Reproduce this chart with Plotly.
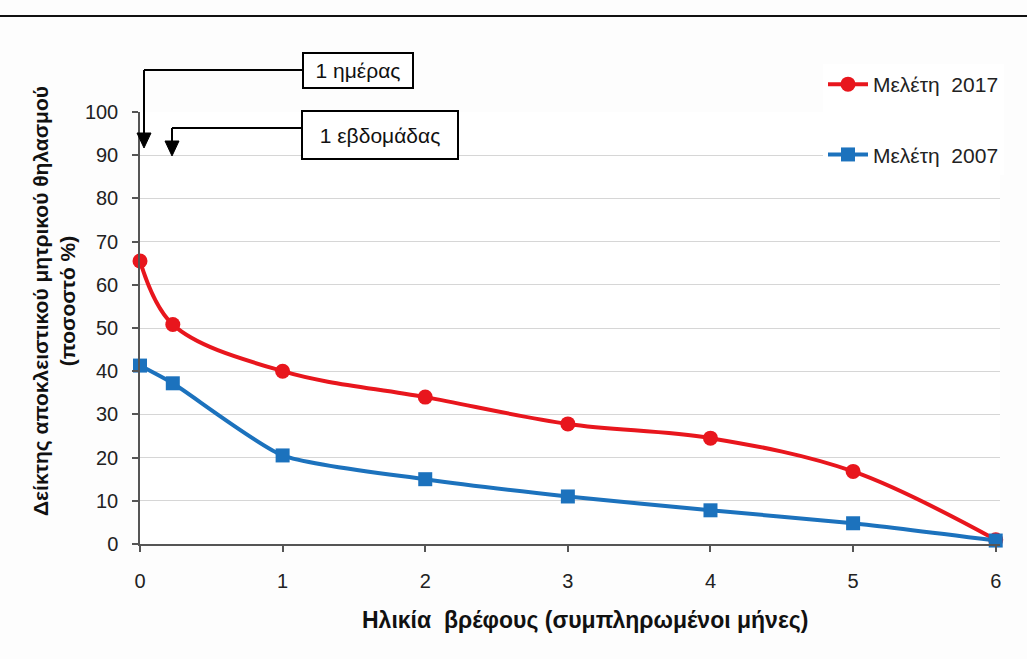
import plotly.graph_objects as go

# ---- data ----
months = [0, 0.23, 1, 2, 3, 4, 5, 6]
study_2017 = [65.5, 50.8, 40.0, 34.0, 27.8, 24.5, 16.8, 1.0]
study_2007 = [41.3, 37.2, 20.5, 15.0, 11.0, 7.8, 4.8, 0.8]
series_names = ["Μελέτη  2017", "Μελέτη  2007"]
y_ticks = list(range(0, 101, 10))
x_ticks = [0, 1, 2, 3, 4, 5, 6]
x_title = "Ηλικία  βρέφους (συμπληρωμένοι μήνες)"
y_title = "Δείκτης αποκλειστικού μητρικού θηλασμού<br>(ποσοστό %)"
note_day = "1 ημέρας"
note_week = "1 εβδομάδας"

W, H = 1027, 659
L, R, T, B = 140, 27, 112, 115
PW, PH = W - L - R, H - T - B


def px(xpix):
    return (xpix - L) / PW


def py(ypix):
    return (H - B - ypix) / PH


RED = "#e8161d"
BLUE = "#1c72bd"
FONT = "Liberation Sans, Arial, sans-serif"

fig = go.Figure()
fig.add_trace(go.Scatter(
    x=months, y=study_2017, name=series_names[0], mode="lines+markers",
    line=dict(color=RED, width=4, shape="spline", smoothing=1.0),
    marker=dict(symbol="circle", size=15, color=RED),
    cliponaxis=False, legendgroup="a"))
fig.add_trace(go.Scatter(
    x=months, y=study_2007, name=series_names[1], mode="lines+markers",
    line=dict(color=BLUE, width=4, shape="spline", smoothing=0.6),
    marker=dict(symbol="square", size=14, color=BLUE),
    cliponaxis=False, legendgroup="b"))

shapes = []
# top rule
shapes.append(dict(type="line", xref="paper", yref="paper", x0=px(0), x1=px(W),
                   y0=py(16), y1=py(16), line=dict(color="#111", width=2)))


def arrow(x_box, y_line, x_down, y_tip):
    shapes.append(dict(type="line", xref="paper", yref="paper",
                       x0=px(x_box), x1=px(x_down), y0=py(y_line), y1=py(y_line),
                       line=dict(color="#000", width=2)))
    shapes.append(dict(type="line", xref="paper", yref="paper",
                       x0=px(x_down), x1=px(x_down), y0=py(y_line), y1=py(y_tip - 12),
                       line=dict(color="#000", width=2)))
    shapes.append(dict(type="path", xref="paper", yref="paper",
                       path=f"M {px(x_down - 7)} {py(y_tip - 15)} L {px(x_down + 7)} {py(y_tip - 15)} L {px(x_down)} {py(y_tip)} Z",
                       fillcolor="#000", line=dict(color="#000", width=1)))


arrow(304, 70, 144, 148)
arrow(302, 128, 172, 156)

annotations = [
    dict(text=note_day, xref="paper", yref="paper", x=px(358), y=py(71),
         showarrow=False, font=dict(family=FONT, size=21, color="#111"),
         bordercolor="#000", borderwidth=2, borderpad=3, bgcolor="white",
         xanchor="center", yanchor="middle", width=102, height=27),
    dict(text=note_week, xref="paper", yref="paper", x=px(380), y=py(135),
         showarrow=False, font=dict(family=FONT, size=21, color="#111"),
         bordercolor="#000", borderwidth=2, borderpad=4, bgcolor="white",
         xanchor="center", yanchor="middle", width=146, height=38),
    dict(text="<b>" + y_title + "</b>", xref="paper", yref="paper",
         x=px(54), y=py(301), textangle=-90, showarrow=False,
         font=dict(family=FONT, size=21, color="#111"),
         xanchor="center", yanchor="middle"),
    dict(text="<b>" + x_title + "</b>", xref="paper", yref="paper",
         x=px(585), y=py(620), showarrow=False,
         font=dict(family="Liberation Sans Narrow, Arial Narrow, " + FONT, size=23, color="#111"),
         xanchor="center", yanchor="middle"),
]

fig.update_layout(
    width=W, height=H,
    margin=dict(l=L, r=R, t=T, b=B, autoexpand=False),
    paper_bgcolor="#fdfdfd", plot_bgcolor="white",
    font=dict(family=FONT, size=17, color="#222"),
    shapes=shapes, annotations=annotations,
    showlegend=True,
    legend=dict(x=px(823), y=py(64), xanchor="left", yanchor="top",
                bgcolor="white", font=dict(family=FONT, size=21, color="#222"),
                tracegroupgap=40, traceorder="grouped", itemwidth=40),
    xaxis=dict(range=[0, 6.03], tickvals=x_ticks, showgrid=False, zeroline=False,
               showline=True, linecolor="#555", linewidth=1.5,
               ticks="outside", ticklen=6, tickcolor="#555", tickwidth=1.5,
               ticklabelstandoff=12, tickfont=dict(size=20)),
    yaxis=dict(range=[0, 100], tickvals=y_ticks, showgrid=True, gridcolor="#d6d6d6",
               gridwidth=1, zeroline=False,
               showline=True, linecolor="#555", linewidth=1.5,
               ticks="outside", ticklen=6, tickcolor="#555", tickwidth=1.5,
               ticklabelstandoff=10, tickfont=dict(size=20)),
)

fig.write_html("out.html")
